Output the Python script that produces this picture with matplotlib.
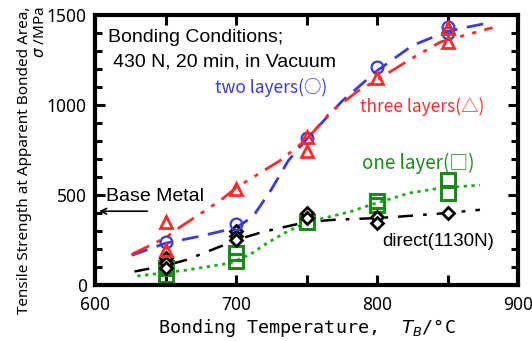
import matplotlib
matplotlib.use('Agg')
import matplotlib.pyplot as plt
from matplotlib.ticker import MultipleLocator

plt.rcParams['font.family'] = ['Liberation Sans', 'Noto Sans CJK JP', 'DejaVu Sans']
cjk = ['Noto Sans CJK JP', 'DejaVu Sans']

# measured points
two_T = [650, 700, 750, 800, 850, 850]
two_v = [238, 338, 818, 1210, 1435, 1400]
three_T = [650, 650, 700, 750, 750, 800, 850, 850]
three_v = [352, 192, 535, 822, 742, 1150, 1427, 1352]
one_T = [650, 650, 650, 700, 700, 750, 800, 800, 850, 850]
one_v = [92, 55, 30, 180, 135, 352, 465, 443, 582, 512]
direct_T = [650, 650, 650, 700, 700, 700, 750, 750, 800, 800, 850]
direct_v = [150, 120, 95, 298, 270, 248, 398, 372, 380, 345, 400]

# fitted curves
two_cT = [626, 650, 675, 700, 712, 725, 737, 750, 775, 800, 825, 850, 880]
two_cv = [165, 232, 272, 318, 380, 530, 690, 810, 1020, 1190, 1330, 1410, 1458]
three_cT = [626, 650, 660, 689, 700, 731, 750, 767, 786, 800, 825, 845, 882]
three_cv = [170, 262, 320, 470, 540, 690, 808, 960, 1075, 1140, 1260, 1350, 1430]
direct_cT = [628, 650, 665, 694, 700, 719, 750, 769, 800, 816, 850, 873]
direct_cv = [75, 108, 140, 230, 250, 295, 350, 362, 372, 380, 400, 418]
one_cT = [630, 665, 696, 710, 722, 737, 752, 781, 795, 823, 845, 873]
one_cv = [50, 83, 122, 170, 233, 300, 352, 407, 444, 511, 539, 555]

blue = '#3a3ae0'
red = '#ff2a2a'
green = '#1a8a1a'

fig = plt.figure(figsize=(5.32, 3.41), dpi=100)
ax = fig.add_axes([0.1786, 0.1642, 0.7951, 0.7918])

ax.plot(two_cT, two_cv, color=blue, lw=2, dashes=(6, 3.5))
ax.plot(three_cT, three_cv, color=red, lw=2, dashes=(7, 3, 1.5, 3, 1.5, 3))
ax.plot(direct_cT, direct_cv, color='black', lw=1.8, dashes=(6, 4, 1.5, 4))
ax.plot(one_cT, one_cv, color='#22aa22', lw=2, dashes=(1.2, 1.6))

ax.plot(one_T, one_v, 's', ms=9.5, mfc='none', mec=green, mew=2.2, ls='none')
ax.plot(direct_T, direct_v, 'D', ms=6, mfc='white', mec='black', mew=2, ls='none')
ax.plot(two_T, two_v, 'o', ms=8.5, mfc='none', mec=blue, mew=1.6, ls='none')
ax.plot(three_T, three_v, '^', ms=8.5, mfc='none', mec=red, mew=2, ls='none')

ax.set_xlim(600, 900)
ax.set_ylim(0, 1500)
ax.xaxis.set_major_locator(MultipleLocator(100))
ax.xaxis.set_minor_locator(MultipleLocator(50))
ax.yaxis.set_major_locator(MultipleLocator(500))
ax.yaxis.set_minor_locator(MultipleLocator(100))
ax.tick_params(which='both', direction='in', top=True, right=True, width=2.2)
ax.tick_params(which='major', length=7, labelsize=12.5, pad=6)
ax.tick_params(axis='x', which='major', pad=8)
ax.tick_params(which='minor', length=5)
ax.tick_params(axis='x', which='minor', length=7)
for lbl in ax.get_xticklabels() + ax.get_yticklabels():
    lbl.set_family(['Noto Sans'])
for s in ax.spines.values():
    s.set_linewidth(3)

ax.text(0.031, 0.915, 'Bonding Conditions;', transform=ax.transAxes,
        fontsize=14, va='center')
ax.text(0.043, 0.826, '430 N, 20 min, in Vacuum', transform=ax.transAxes,
        fontsize=14, va='center')
ax.text(685, 1100, 'two layers(○)', color=blue, fontsize=12.5, va='center',
        family=cjk)
ax.text(788, 990, 'three layers(△)', color=red, fontsize=12.5, va='center',
        family=cjk)
ax.text(789, 678, 'one layer(□)', color=green, fontsize=13.5, va='center',
        family=cjk)
ax.text(804, 244, 'direct(1130N)', color='black', fontsize=13.5, va='center')
ax.text(608, 489, 'Base Metal', fontsize=14, va='center')
ax.annotate('', xy=(601, 410), xytext=(639, 410),
            arrowprops=dict(arrowstyle='->', color='black', lw=1.2))

ax.set_xlabel('Bonding Temperature,  $\\mathit{T_B}$/°C', fontsize=13.2,
              family=['DejaVu Sans Mono'], labelpad=2)
ax.set_ylabel('Tensile Strength at Apparent Bonded Area,\n$\\sigma$ /MPa',
              fontsize=11, linespacing=1.1, multialignment='right',
              family=['Noto Sans'])
ax.yaxis.set_label_coords(-0.111, 0.463)

fig.savefig('out.png', dpi=100)
